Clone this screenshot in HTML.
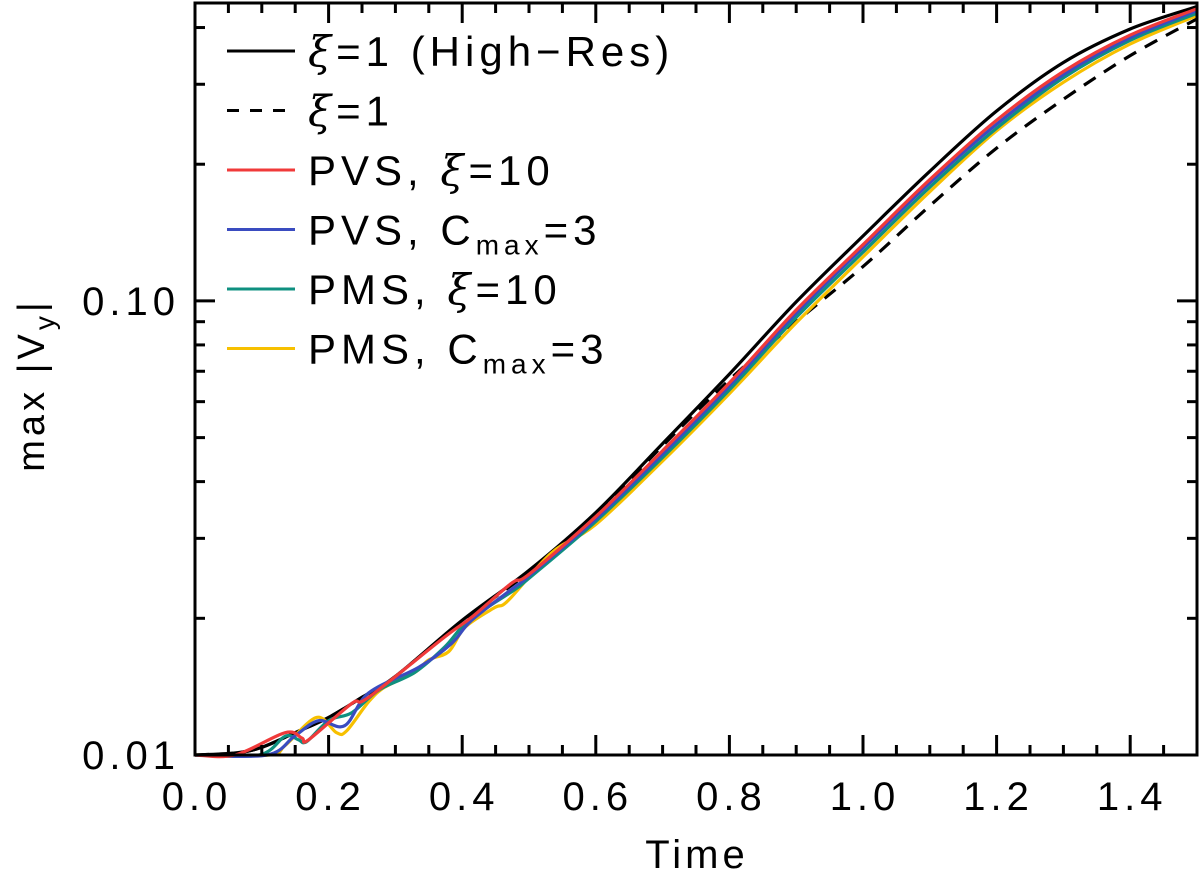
<!DOCTYPE html>
<html><head><meta charset="utf-8"><style>
html,body{margin:0;padding:0;background:#fff;}
svg{display:block;font-family:"Liberation Sans","DejaVu Sans",sans-serif;}
</style></head><body>
<svg id="chart" width="1200" height="880" viewBox="0 0 1200 880">
<g id="marks"></g>
<g id="axes"></g>
<g id="legend"></g>
</svg>
<script>
const xTicksMajor = [0.0,0.2,0.4,0.6,0.8,1.0,1.2,1.4];
const xTickLabels = ["0.0","0.2","0.4","0.6","0.8","1.0","1.2","1.4"];
const yTicksMajor = [0.01,0.1];
const yTickLabels = ["0.01","0.10"];
const yTicksMinor = [0.02,0.03,0.04,0.05,0.06,0.07,0.08,0.09,0.2,0.3,0.4];

const tBlack = [0,0.06,0.1,0.15,0.2,0.25,0.3,0.4,0.5,0.6,0.7,0.8,0.9,1.0,1.1,1.2,1.3,1.4,1.5];
const vBlack = [0.01,0.0101,0.0104,0.0112,0.0121,0.0134,0.0149,0.0198,0.0255,0.0342,0.0485,0.069,0.0995,0.139,0.193,0.262,0.335,0.397,0.445];
const tDash = [0,0.06,0.1,0.15,0.2,0.25,0.3,0.4,0.5,0.6,0.7,0.8,0.9,1.0,1.1,1.2,1.3,1.4,1.5];
const vDash = [0.01,0.0101,0.0104,0.0112,0.0121,0.0134,0.0149,0.0197,0.0253,0.0338,0.048,0.067,0.09,0.119,0.162,0.217,0.278,0.347,0.418];
const tRed = [0,0.06,0.135,0.16,0.17,0.235,0.26,0.374,0.414,0.474,0.5,0.6,0.7,0.8,0.9,1.0,1.1,1.2,1.3,1.4,1.5];
const vRed = [0.01,0.01,0.0112,0.0109,0.0108,0.013,0.0134,0.0182,0.0201,0.0239,0.025,0.0335,0.0468,0.066,0.0955,0.133,0.185,0.25,0.32,0.385,0.44];
const tBlue = [0,0.108,0.149,0.185,0.224,0.26,0.335,0.384,0.414,0.478,0.5,0.6,0.7,0.8,0.9,1.0,1.1,1.2,1.3,1.4,1.5];
const vBlue = [0.01,0.01,0.011,0.0119,0.0116,0.0137,0.0156,0.0176,0.0198,0.0234,0.0248,0.0331,0.046,0.065,0.094,0.131,0.182,0.245,0.315,0.38,0.436];
const tTeal = [0,0.096,0.135,0.155,0.167,0.2,0.235,0.275,0.329,0.374,0.41,0.478,0.5,0.6,0.7,0.8,0.9,1.0,1.1,1.2,1.3,1.4,1.5];
const vTeal = [0.01,0.01,0.011,0.0108,0.0107,0.0119,0.0124,0.0139,0.0152,0.0173,0.0198,0.0231,0.0245,0.0327,0.0452,0.0637,0.092,0.128,0.178,0.24,0.31,0.375,0.43];
const tYellow = [0,0.111,0.135,0.182,0.212,0.227,0.26,0.284,0.329,0.35,0.38,0.404,0.448,0.469,0.534,0.6,0.7,0.8,0.9,1.0,1.1,1.2,1.3,1.4,1.5];
const vYellow = [0.01,0.01,0.0105,0.0121,0.0112,0.0113,0.0131,0.0141,0.0152,0.0162,0.0169,0.0191,0.0211,0.0219,0.0279,0.0322,0.0444,0.0625,0.0895,0.125,0.174,0.237,0.303,0.368,0.425];

const X0=195,X1=1197,Y0=755,Y1=3;
const xMin=0,xMax=1.5,yMin=0.01,yMax=0.453;
function xs(t){return X0+(t-xMin)/(xMax-xMin)*(X1-X0);}
function ys(v){return Y0-(Math.log10(v)-Math.log10(yMin))/(Math.log10(yMax)-Math.log10(yMin))*(Y0-Y1);}
const NS="http://www.w3.org/2000/svg";
function mk(tag,attrs,parent){const e=document.createElementNS(NS,tag);for(const k in attrs)e.setAttribute(k,attrs[k]);parent.appendChild(e);return e;}
function smoothPath(P){
 let d="M"+P[0][0].toFixed(1)+","+P[0][1].toFixed(1);
 for(let i=0;i<P.length-1;i++){
  const p0=P[Math.max(0,i-1)],p1=P[i],p2=P[i+1],p3=P[Math.min(P.length-1,i+2)];
  const c1x=p1[0]+(p2[0]-p0[0])/6,c1y=p1[1]+(p2[1]-p0[1])/6;
  const c2x=p2[0]-(p3[0]-p1[0])/6,c2y=p2[1]-(p3[1]-p1[1])/6;
  d+=" C"+c1x.toFixed(1)+","+c1y.toFixed(1)+" "+c2x.toFixed(1)+","+c2y.toFixed(1)+" "+p2[0].toFixed(1)+","+p2[1].toFixed(1);
 }
 return d;
}
const marks=document.getElementById('marks'),axes=document.getElementById('axes');

const series=[
 {t:tBlack,v:vBlack,c:"#000",d:"",n:"series-xi1-highres"},
 {t:tDash,v:vDash,c:"#000",d:"14 10",n:"series-xi1"},
 {t:tYellow,v:vYellow,c:"#f7c000",d:"",n:"series-pms-cmax3"},
 {t:tTeal,v:vTeal,c:"#0f9080",d:"",n:"series-pms-xi10"},
 {t:tBlue,v:vBlue,c:"#3a4cc0",d:"",n:"series-pvs-cmax3"},
 {t:tRed,v:vRed,c:"#f03a3a",d:"",n:"series-pvs-xi10"}];
series.forEach(s=>{
 const P=s.t.map((t,i)=>[xs(t),ys(s.v[i])]);
 const p=mk('path',{d:smoothPath(P),fill:"none",stroke:s.c,"stroke-width":3.2,"stroke-linejoin":"round"},marks);
 if(s.d)p.setAttribute('stroke-dasharray',s.d);
 
 
});

const frame=mk('rect',{x:X0,y:Y1,width:X1-X0,height:Y0-Y1,fill:"none",stroke:"#000","stroke-width":3},axes);


for(let k=0;k<=30;k++){
 const t=k*0.05, x=xs(t), major=(k%4===0), len=major?20:10;
 mk('line',{x1:x,y1:Y0,x2:x,y2:Y0-len,stroke:"#000","stroke-width":3},axes);
 mk('line',{x1:x,y1:Y1,x2:x,y2:Y1+len,stroke:"#000","stroke-width":3},axes);
}
xTicksMajor.forEach((t,i)=>{
 const tx=mk('text',{x:xs(t)+2,y:810,"font-size":40,"text-anchor":"middle","letter-spacing":5},axes);
 tx.textContent=xTickLabels[i];
 
 
});
yTicksMajor.forEach((v,i)=>{
 const y=ys(v);
 mk('line',{x1:X0,y1:y,x2:X0+20,y2:y,stroke:"#000","stroke-width":3},axes);
 mk('line',{x1:X1,y1:y,x2:X1-20,y2:y,stroke:"#000","stroke-width":3},axes);
 const tx=mk('text',{x:180,y:y+14,"font-size":40,"text-anchor":"end","letter-spacing":5},axes);
 tx.textContent=yTickLabels[i];
 
 
});
yTicksMinor.forEach(v=>{
 const y=ys(v);
 mk('line',{x1:X0,y1:y,x2:X0+10,y2:y,stroke:"#000","stroke-width":3},axes);
 mk('line',{x1:X1,y1:y,x2:X1-10,y2:y,stroke:"#000","stroke-width":3},axes);
});
</script>
<script>
(function(){
const svg=document.getElementById('chart');
const NS="http://www.w3.org/2000/svg";
const xt=document.createElementNS(NS,'text');
xt.setAttribute('x',697);xt.setAttribute('y',868);xt.setAttribute('font-size',40);xt.setAttribute('text-anchor','middle');xt.setAttribute('letter-spacing',4);
xt.textContent='Time';


svg.appendChild(xt);
const yt=document.createElementNS(NS,'text');
yt.setAttribute('transform','translate(44,385) rotate(-90)');yt.setAttribute('font-size',38);yt.setAttribute('text-anchor','middle');yt.setAttribute('letter-spacing',4);
yt.innerHTML='max  |V<tspan dy="10" font-size="28">y</tspan><tspan dy="-10">|</tspan>';


svg.appendChild(yt);
const lg=document.getElementById('legend');
const items=[
 ["#000","", '<tspan font-style="italic" font-family="DejaVu Serif, serif">ξ</tspan>=1  (High−Res)',"legend-xi1-highres"],
 ["#000","14 10",'<tspan font-style="italic" font-family="DejaVu Serif, serif">ξ</tspan>=1',"legend-xi1"],
 ["#f03a3a","",'PVS,  <tspan font-style="italic" font-family="DejaVu Serif, serif">ξ</tspan>=10',"legend-pvs-xi10"],
 ["#3a4cc0","",'PVS,  C<tspan dy="10" font-size="28">max</tspan><tspan dy="-10">=3</tspan>',"legend-pvs-cmax3"],
 ["#0f9080","",'PMS,  <tspan font-style="italic" font-family="DejaVu Serif, serif">ξ</tspan>=10',"legend-pms-xi10"],
 ["#f7c000","",'PMS,  C<tspan dy="10" font-size="28">max</tspan><tspan dy="-10">=3</tspan>',"legend-pms-cmax3"]];
items.forEach((it,i)=>{
 const y=51+i*59.5;
 const g=document.createElementNS(NS,'g');
 
 
 const l=document.createElementNS(NS,'line');
 l.setAttribute('x1',227);l.setAttribute('x2',295);l.setAttribute('y1',y);l.setAttribute('y2',y);
 l.setAttribute('stroke',it[0]);l.setAttribute('stroke-width',3);
 if(it[1])l.setAttribute('stroke-dasharray','12 11');
 g.appendChild(l);
 const t=document.createElementNS(NS,'text');
 t.setAttribute('x',308);t.setAttribute('y',y+15);t.setAttribute('font-size',42);t.setAttribute('letter-spacing',5);
 t.innerHTML=it[2];
 g.appendChild(t);
 lg.appendChild(g);
});
})();
</script>
</body></html>
